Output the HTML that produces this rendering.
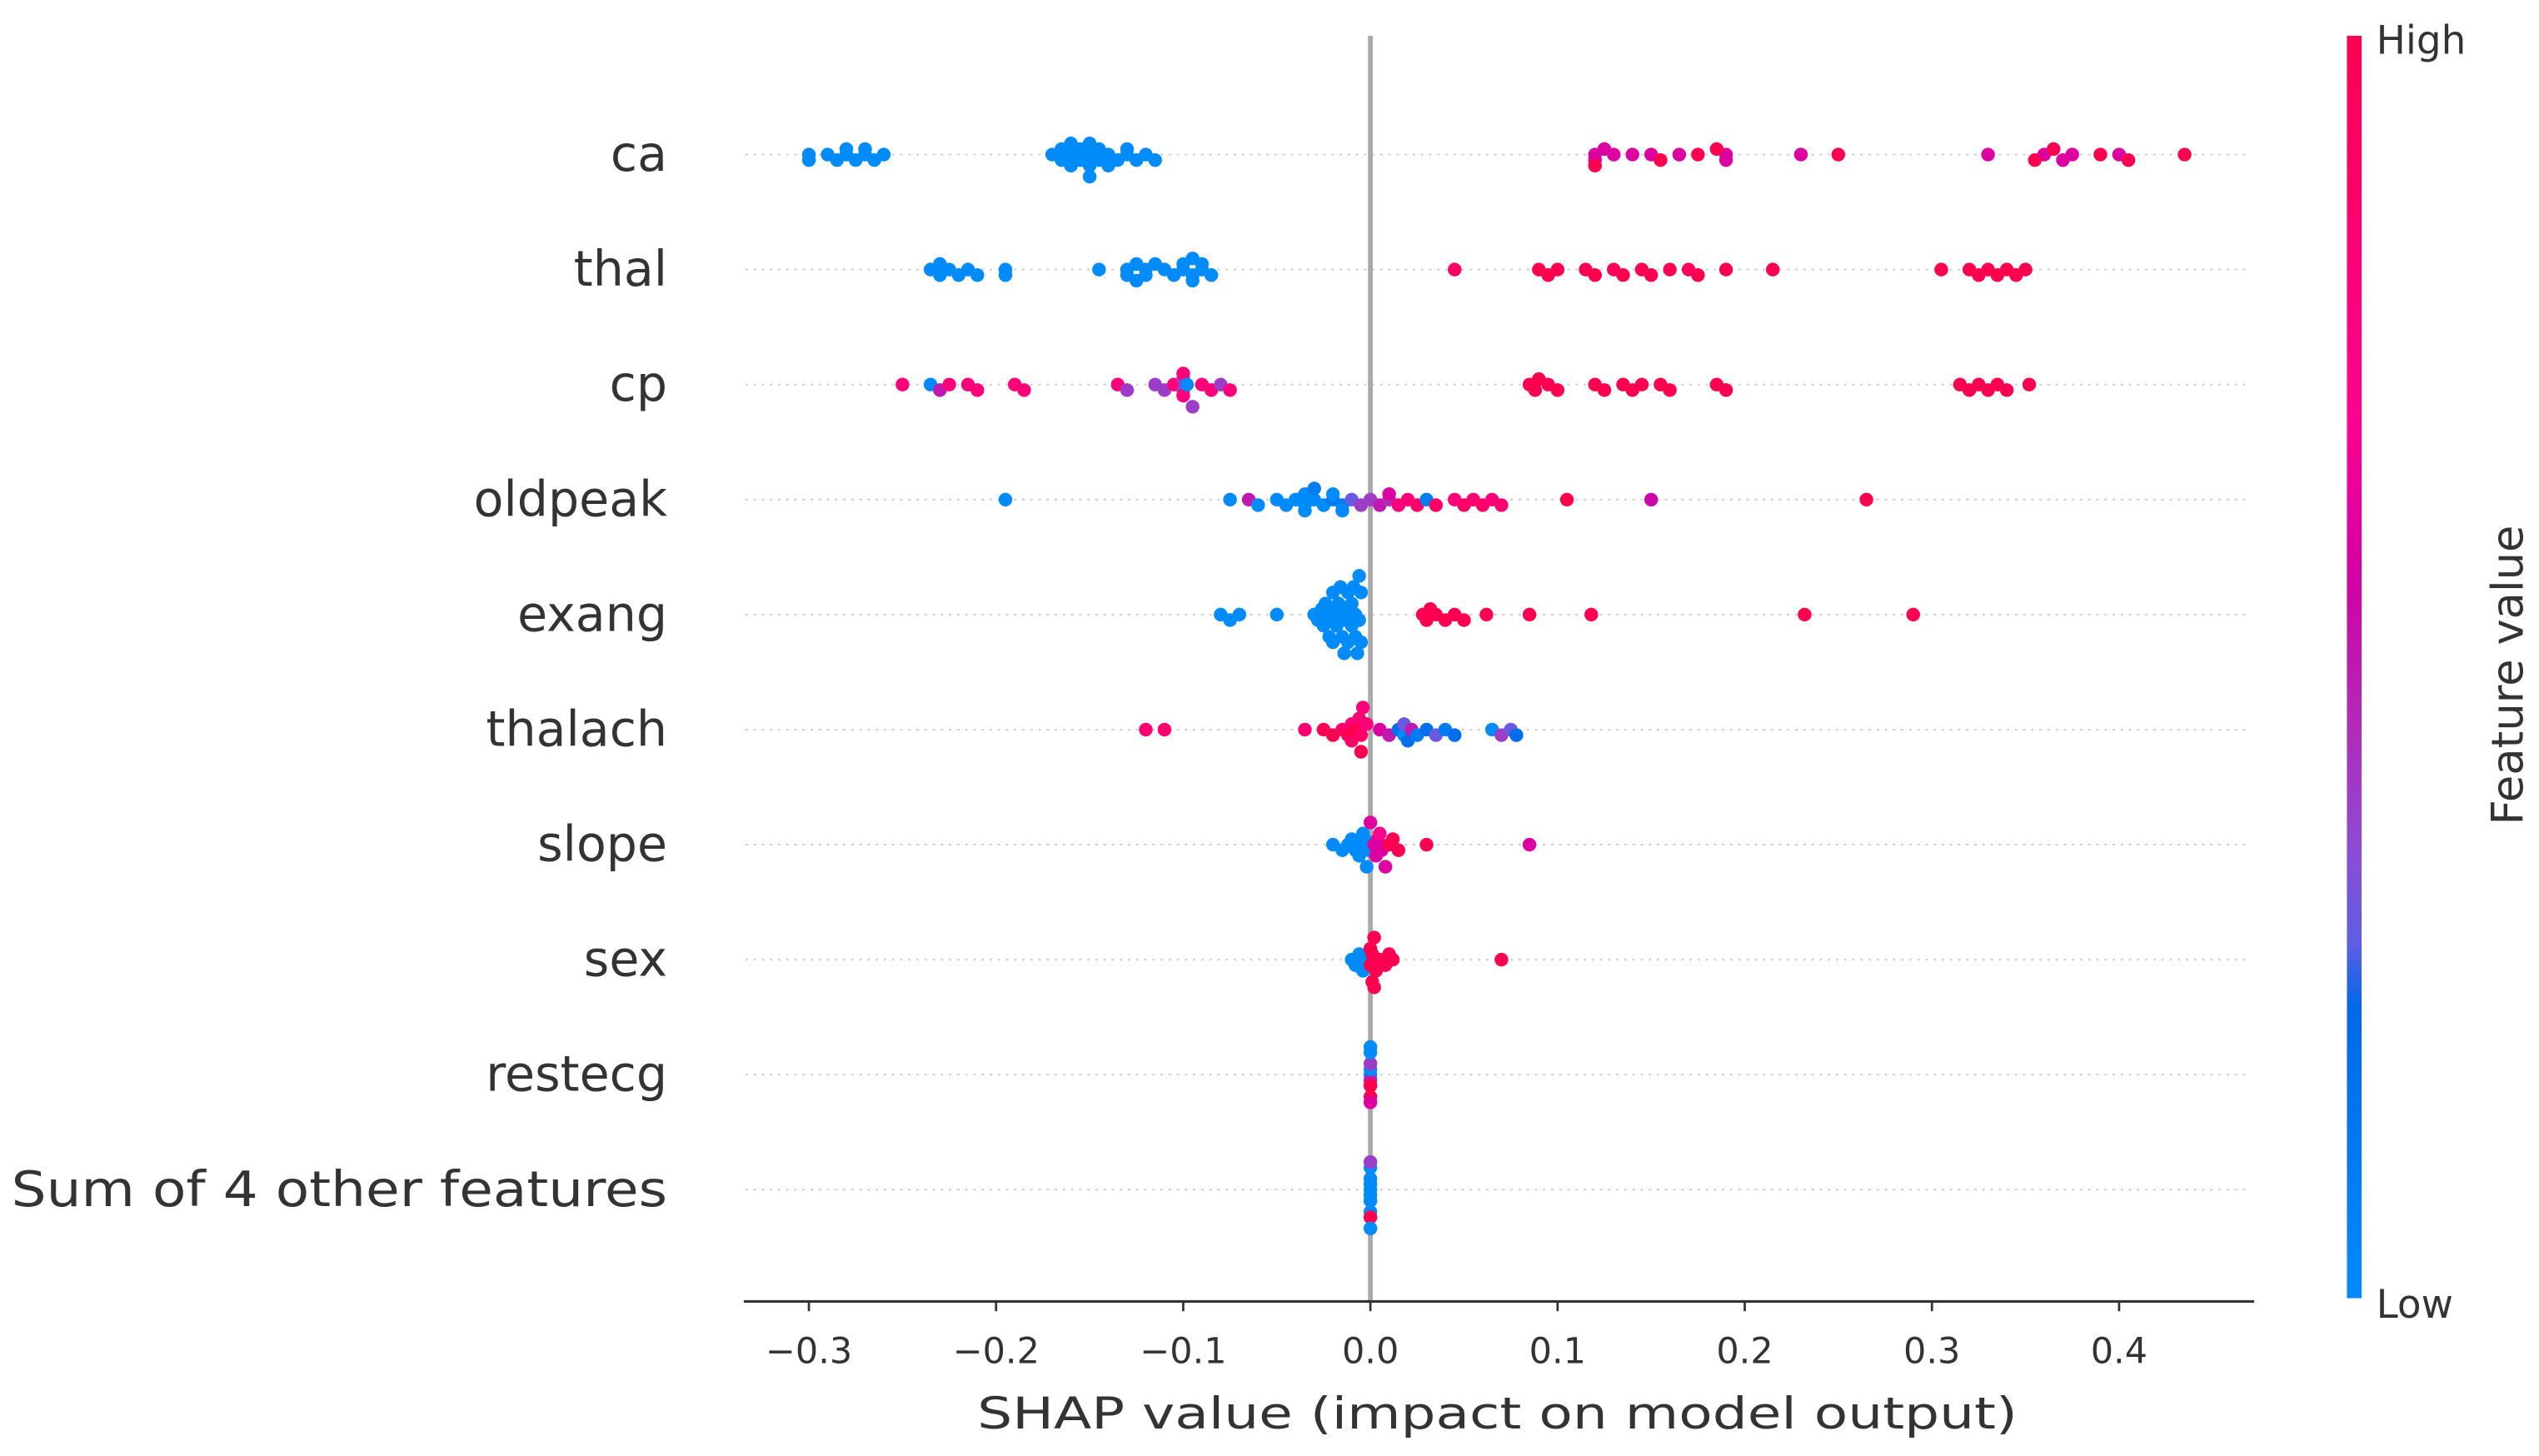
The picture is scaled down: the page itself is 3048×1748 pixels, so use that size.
<!DOCTYPE html>
<html><head><meta charset="utf-8"><style>
html,body{margin:0;padding:0;background:#fff;}
svg{display:block;}
text{font-family:"DejaVu Sans","Liberation Sans",sans-serif;fill:#333;}
</style></head><body>
<svg id="chart" width="3048" height="1748" viewBox="0 0 1560 895" preserveAspectRatio="none" xmlns="http://www.w3.org/2000/svg">
<defs>
<linearGradient id="cb" x1="0" y1="1" x2="0" y2="0">
<stop offset="0" stop-color="#008bfb"/><stop offset="0.23" stop-color="#0068e8"/><stop offset="0.28" stop-color="#5c5fe3"/><stop offset="0.35" stop-color="#8a4dd4"/><stop offset="0.45" stop-color="#b02cb8"/><stop offset="0.57" stop-color="#d100a5"/><stop offset="0.7" stop-color="#ff0090"/><stop offset="1" stop-color="#ff0051"/>
</linearGradient>
</defs>
<g id="grid"></g>
<line x1="842" y1="22" x2="842" y2="800" stroke="#aaaaaa" stroke-width="3"/>
<g id="dots"></g>
<g id="labels"></g>
<line x1="457" y1="800" x2="1385" y2="800" stroke="#333" stroke-width="1.6"/>
<g id="ticks"></g>
<text x="920" y="878" font-size="27" text-anchor="middle" textLength="639" lengthAdjust="spacingAndGlyphs">SHAP value (impact on model output)</text>
<rect x="1442" y="22" width="9" height="776" fill="url(#cb)"/>
<text x="1460" y="33" font-size="24">High</text>
<text x="1460" y="810" font-size="24">Low</text>
<text x="0" y="0" font-size="27" text-anchor="middle" transform="translate(1550,415) rotate(-90)">Feature value</text>
</svg>
<script>
const features = ["ca","thal","cp","oldpeak","exang","thalach","slope","sex","restecg","Sum of 4 other features"];
const xTicks = [-0.3,-0.2,-0.1,0.0,0.1,0.2,0.3,0.4];
const xTickLabels = ["\u22120.3","\u22120.2","\u22120.1","0.0","0.1","0.2","0.3","0.4"];
const caVals = [-0.30,-0.30,-0.29,-0.285,-0.28,-0.28,-0.275,-0.27,-0.27,-0.265,-0.26,-0.17,-0.165,-0.165,-0.16,-0.16,-0.16,-0.155,-0.155,-0.15,-0.15,-0.15,-0.15,-0.145,-0.145,-0.14,-0.14,-0.135,-0.13,-0.13,-0.125,-0.12,-0.115,0.12,0.12,0.125,0.13,0.14,0.15,0.165,0.19,0.19,0.23,0.33,0.36,0.375,0.37,0.12,0.155,0.175,0.185,0.25,0.355,0.365,0.39,0.40,0.405,0.435];
const caCols = [0,0,0,0,0,0,0,0,0,0,0,0,0,0,0,0,0,0,0,0,0,0,0,0,0,0,0,0,0,0,0,0,0,0.6,0.6,0.6,0.6,0.6,0.6,0.6,0.6,0.6,0.6,0.6,0.6,0.6,0.6,1,1,1,1,1,1,1,1,0.6,1,1];
const thalVals = [-0.235,-0.23,-0.23,-0.225,-0.22,-0.215,-0.21,-0.195,-0.195,-0.145,-0.13,-0.13,-0.125,-0.125,-0.12,-0.12,-0.115,-0.11,-0.105,-0.1,-0.1,-0.095,-0.095,-0.095,-0.09,-0.09,-0.085,0.045,0.09,0.095,0.10,0.115,0.12,0.13,0.135,0.145,0.15,0.16,0.17,0.175,0.19,0.215,0.305,0.32,0.325,0.33,0.335,0.34,0.345,0.35];
const thalCols = [0,0,0,0,0,0,0,0,0,0,0,0,0,0,0,0,0,0,0,0,0,0,0,0,0,0,0,0.9,1,1,1,1,1,0.95,1,1,1,1,0.95,1,1,1,1,1,1,1,1,1,1,1];
const cpVals = [-0.25,-0.235,-0.23,-0.225,-0.215,-0.21,-0.19,-0.185,-0.135,-0.13,-0.115,-0.11,-0.105,-0.1,-0.1,-0.1,-0.1,-0.098,-0.095,-0.09,-0.085,-0.08,-0.075,0.085,0.088,0.09,0.095,0.1,0.12,0.125,0.135,0.14,0.145,0.155,0.16,0.185,0.19,0.315,0.32,0.325,0.33,0.335,0.34,0.352];
const cpCols = [0.8,0,0.5,0.8,0.8,0.8,0.8,0.8,0.8,0.4,0.4,0.4,0.8,0.4,0.4,0.8,0.8,0,0.4,0.8,0.8,0.4,0.8,1,1,1,1,1,1,1,1,1,1,1,1,1,1,1,1,1,1,1,1,1];
const oldpeakVals = [-0.195,-0.075,-0.065,-0.06,-0.05,-0.045,-0.04,-0.035,-0.035,-0.035,-0.03,-0.03,-0.025,-0.02,-0.02,-0.015,-0.015,-0.01,-0.005,0.0,0.005,0.01,0.01,0.015,0.02,0.025,0.03,0.035,0.045,0.05,0.055,0.06,0.065,0.07,0.105,0.15,0.265];
const oldpeakCols = [0,0,0.5,0,0,0,0,0,0,0,0,0.1,0,0.1,0,0.1,0,0.3,0.4,0.4,0.5,0.45,0.6,0.8,0.8,0.9,0.1,0.9,0.8,0.9,0.85,0.9,0.8,0.85,1,0.55,1];
const exangVals = [-0.08,-0.075,-0.07,-0.05,-0.03,-0.028,-0.026,-0.025,-0.024,-0.022,-0.022,-0.02,-0.02,-0.02,-0.018,-0.018,-0.017,-0.016,-0.015,-0.015,-0.014,-0.013,-0.012,-0.012,-0.011,-0.01,-0.01,-0.009,-0.008,-0.008,-0.007,-0.006,-0.006,-0.005,-0.005,0.028,0.03,0.032,0.035,0.04,0.045,0.05,0.062,0.085,0.118,0.232,0.29];
const exangCols = [0,0,0,0,0,0,0,0,0,0,0,0,0,0,0,0,0,0,0,0,0,0,0,0,0,0,0,0,0,0,0,0,0,0,0,1,1,1,1,1,1,1,1,1,1,1,1];
const thalachVals = [-0.12,-0.11,-0.035,-0.025,-0.02,-0.015,-0.012,-0.01,-0.01,-0.008,-0.006,-0.005,-0.005,-0.004,-0.002,0.005,0.01,0.015,0.018,0.018,0.02,0.022,0.025,0.03,0.035,0.04,0.045,0.065,0.07,0.075,0.078];
const thalachCols = [0.85,0.85,0.85,1,1,0.9,1,0.8,0.9,1,0.85,0.9,1,0.8,0.8,0.6,0.5,0.2,0,0.3,0.2,0.5,0.1,0.2,0.3,0.1,0.2,0,0.4,0.3,0.2];
const slopeVals = [-0.02,-0.015,-0.012,-0.01,-0.008,-0.006,-0.005,-0.004,-0.003,-0.002,-0.001,0.0,0.002,0.003,0.004,0.005,0.006,0.008,0.01,0.012,0.015,0.03,0.085];
const slopeCols = [0,0,0,0,0,0,0,0,0,0,0,0.6,0.6,0.6,0.6,0.7,0.6,0.6,1,1,1,1,0.6];
const sexVals = [-0.01,-0.008,-0.006,-0.004,-0.002,0.0,0.0,0.001,0.001,0.002,0.002,0.003,0.005,0.008,0.01,0.012,0.07];
const sexCols = [0,0,0,0,0,1,1,1,1,1,1,1,1,1,1,1,1];
const restecgVals = [0,0,0,0,0,0,0,0,0];
const restecgCols = [0,0.5,0,1,0.4,1,0,0.6,0];
const otherVals = [0,0,0,0,0,0,0,0,0,0];
const otherCols = [0,0,0,0,0,0,0,1,0.4,0];
const rowVals = [caVals,thalVals,cpVals,oldpeakVals,exangVals,thalachVals,slopeVals,sexVals,restecgVals,otherVals];
const rowCols = [caCols,thalCols,cpCols,oldpeakCols,exangCols,thalachCols,slopeCols,sexCols,restecgCols,otherCols];

const NS="http://www.w3.org/2000/svg";
function xScale(v){return 842+v*1150;}
function yRow(i){return 95+i*70.7;}
const stops=[[0,[0,139,251]],[0.23,[0,104,232]],[0.28,[92,95,227]],[0.35,[138,77,212]],[0.45,[176,44,184]],[0.57,[209,0,165]],[0.7,[255,0,144]],[1,[255,0,81]]];
function colorOf(t){
  for(let k=1;k<stops.length;k++){
    if(t<=stops[k][0]){const a=stops[k-1],b=stops[k];const f=(t-a[0])/(b[0]-a[0]);
      const c=a[1].map((v,j)=>Math.round(v+(b[1][j]-v)*f));return "rgb("+c.join(",")+")";}
  }
  return "rgb(255,0,81)";
}
const grid=document.getElementById('grid'),dots=document.getElementById('dots'),labels=document.getElementById('labels'),ticks=document.getElementById('ticks');
features.forEach((f,i)=>{
  const y=yRow(i);
  const ln=document.createElementNS(NS,'line');
  ln.setAttribute('x1',458);ln.setAttribute('x2',1380);ln.setAttribute('y1',y);ln.setAttribute('y2',y);
  ln.setAttribute('stroke','#cccccc');ln.setAttribute('stroke-width','1');ln.setAttribute('stroke-dasharray','1.5 3.5');
  
  
  grid.appendChild(ln);
  const t=document.createElementNS(NS,'text');
  t.setAttribute('x',410);t.setAttribute('y',y+10);t.setAttribute('font-size','30');t.setAttribute('text-anchor','end');
  if(i===9){t.setAttribute('textLength','403');t.setAttribute('lengthAdjust','spacingAndGlyphs');}
  t.textContent=f;
  
  
  labels.appendChild(t);
  const vals=rowVals[i],cols=rowCols[i];
  const placed=[];const r=4.2,d=3.4,dxT=8,dyT=3.4,maxOff=26;
  vals.forEach((v,k)=>{
    const px=xScale(v);let off=0;
    for(let s=0;s<60;s++){
      const o=(s===0)?0:(s%2?1:-1)*Math.ceil(s/2)*d;
      if(Math.abs(o)>maxOff){off=((k%5)-2)*6;break;}
      if(placed.every(p=>!(Math.abs(p[0]-px)<dxT && Math.abs(p[1]-o)<dyT))){off=o;break;}
    }
    placed.push([px,off]);
    const c=document.createElementNS(NS,'circle');
    c.setAttribute('cx',px);c.setAttribute('cy',y+off);c.setAttribute('r',r);
    c.setAttribute('fill',colorOf(cols[k]));
    
    
    dots.appendChild(c);
  });
});
xTicks.forEach((v,k)=>{
  const x=xScale(v);
  const tk=document.createElementNS(NS,'line');
  tk.setAttribute('x1',x);tk.setAttribute('x2',x);tk.setAttribute('y1',800);tk.setAttribute('y2',806);
  tk.setAttribute('stroke','#333');tk.setAttribute('stroke-width','1.4');
  
  
  ticks.appendChild(tk);
  const t=document.createElementNS(NS,'text');
  t.setAttribute('x',x);t.setAttribute('y',838);t.setAttribute('font-size','22');t.setAttribute('text-anchor','middle');
  t.textContent=xTickLabels[k];
  
  
  ticks.appendChild(t);
});
</script>
</body></html>
